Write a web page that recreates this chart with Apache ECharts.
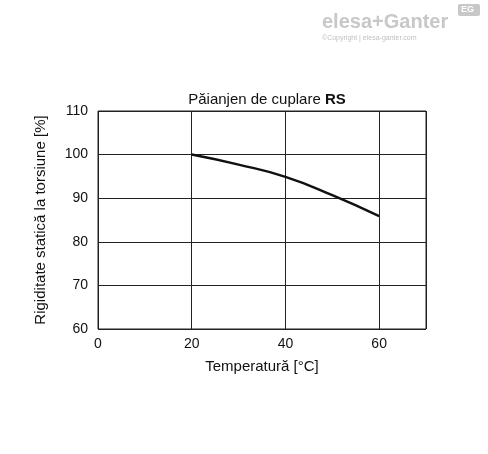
<!DOCTYPE html>
<html><head><meta charset="utf-8">
<script src="https://cdn.jsdelivr.net/npm/echarts@6/dist/echarts.min.js"></script>
<style>html,body{margin:0;padding:0;background:#fff}#c{width:488px;height:454px}</style>
</head><body><div id="c"></div>
<script>
var temps = [20, 30, 40, 50, 60];
var rigidity = [100, 97.7, 94.9, 90.7, 85.9];
var xTicks = [0, 20, 40, 60];

var chart = echarts.init(document.getElementById("c"));
chart.setOption({
  animation: false,
  textStyle: { fontFamily: "Arial, Liberation Sans, sans-serif" },
  graphic: [
    { type: "text", left: 322, top: 12, style: { text: "elesa+Ganter", fontSize: 20, fontWeight: "bold", fill: "#c8c8c8", fontFamily: "Liberation Sans" } },
    { type: "text", left: 322, top: 35, style: { text: "©Copyright | elesa-ganter.com", fontSize: 7, fill: "#c0c0c0" } },
    { type: "rect", left: 458, top: 4, shape: { width: 22, height: 12, r: 2 }, style: { fill: "#c8c8c8" } },
    { type: "text", left: 461, top: 5, style: { text: "EG", fontSize: 9, fontWeight: "bold", fill: "#fff" } }
  ],
  title: {
    text: "Păianjen de cuplare {b|RS}",
    left: 262, top: 87, textAlign: "center",
    textStyle: { fontSize: 15, fontWeight: "normal", color: "#111", rich: { b: { fontSize: 15, fontWeight: "bold", color: "#111" } } }
  },
  grid: { left: 98, right: 62, top: 111, bottom: 125 },
  xAxis: {
    type: "value", min: 0, max: 70, interval: 20,
    name: "Temperatură [°C]", nameLocation: "middle", nameGap: 30,
    nameTextStyle: { fontSize: 15, color: "#111" },
    axisLine: { show: false }, axisTick: { show: false },
    axisLabel: { fontSize: 14, color: "#111", margin: 8,
      formatter: function (v) { return xTicks.indexOf(v) >= 0 ? v : ""; } },
    splitLine: { show: true, lineStyle: { color: "#222", width: 1 } }
  },
  yAxis: {
    type: "value", min: 60, max: 110, interval: 10,
    name: "Rigiditate statică la torsiune [%]", nameLocation: "middle", nameGap: 50,
    nameTextStyle: { fontSize: 15, color: "#111" },
    axisLine: { show: false }, axisTick: { show: false },
    axisLabel: { fontSize: 14, color: "#111", margin: 10 },
    splitLine: { show: true, lineStyle: { color: "#222", width: 1 } }
  },
  series: [{
    type: "line", smooth: true, symbol: "none",
    data: temps.map(function (t, i) { return [t, rigidity[i]]; }),
    lineStyle: { color: "#111", width: 2.5 }
  }]
});
// draw full frame (right edge at 70)
chart.setOption({ grid: { show: true, borderColor: "#222", borderWidth: 1 } });
</script></body></html>
